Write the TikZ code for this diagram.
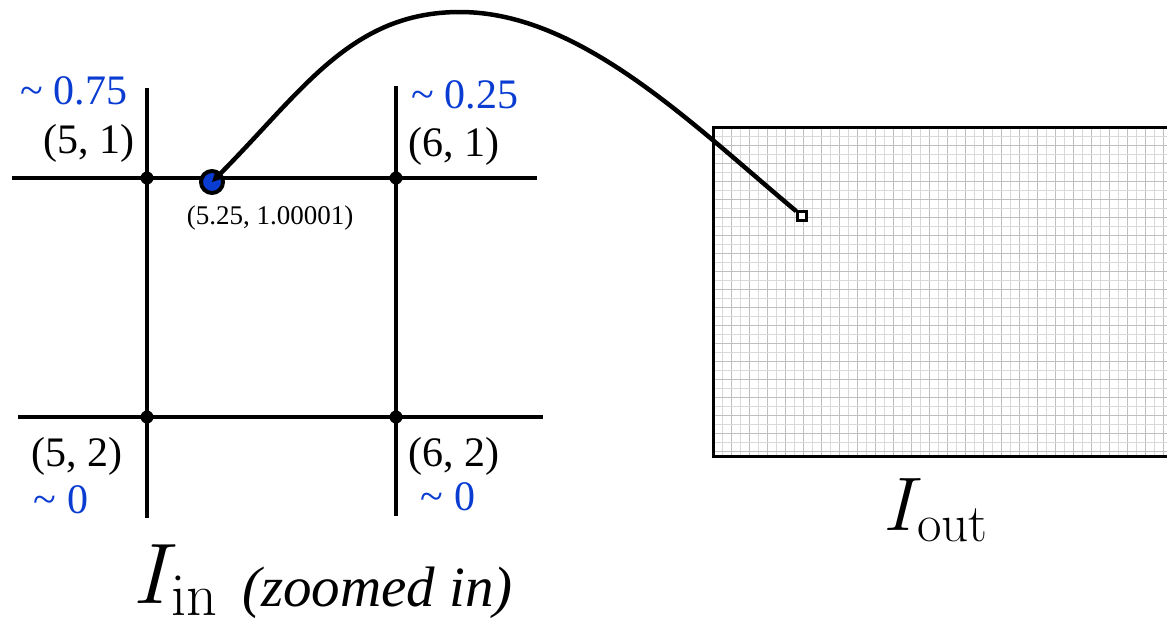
\RequirePackage{fix-cm}
\documentclass[tikz,border=0pt]{standalone}
\usepackage[no-math]{fontspec}
\setmainfont{Liberation Serif}
\usetikzlibrary{arrows.meta}
\definecolor{lblue}{RGB}{10,60,210}
\begin{document}
\begin{tikzpicture}[x=1pt,y=-1pt,
  gline/.style={line width=3.5pt},
  jdot/.style={circle,fill=black,inner sep=0,minimum size=13pt},
  lab/.style={inner sep=0,font=\fontsize{42}{48}\selectfont},
  blab/.style={lab,text=lblue},
  slab/.style={inner sep=0,font=\fontsize{27}{32}\selectfont},
  curve/.style={line width=4.5pt,-{Stealth[length=11pt,width=11pt]}},
  gridA/.style={gray!50,line width=1.6pt},
  gridB/.style={gray!30,line width=1.6pt}]
\useasboundingbox (0,0) rectangle (1167,630);
% input lattice
\draw[gline] (12,178) -- (537,178);
\draw[gline] (18,417) -- (543,417);
\draw[gline] (147,88) -- (147,518);
\draw[gline] (396,86) -- (396,516);
\node[jdot] (p51) at (147,178) {};
\node[jdot] (p61) at (396,178) {};
\node[jdot] (p52) at (147,417) {};
\node[jdot] (p62) at (396,417) {};
% labels
\node[blab] (w51) at (74,91) {\textasciitilde\ 0.75};
\node[lab]  (c51) at (89,143) {(5, 1)};
\node[blab] (w61) at (465,95) {\textasciitilde\ 0.25};
\node[lab]  (c61) at (454,146) {(6, 1)};
\node[lab]  (c52) at (77,456) {(5, 2)};
\node[blab] (w52) at (61,500) {\textasciitilde\ 0};
\node[lab]  (c62) at (454,456) {(6, 2)};
\node[blab] (w62) at (448,497) {\textasciitilde\ 0};
\node[slab] (cpt) at (270,218) {(5.25, 1.00001)};
% output image with grid
\begin{scope}
  \clip (713,127) rectangle (1180,456);
  \foreach \i in {0,2,...,52} \draw[gridA] ({713.5+9*\i},127) -- ++(0,330);
  \foreach \i in {1,3,...,53} \draw[gridB] ({713.5+9*\i},127) -- ++(0,330);
  \foreach \j in {0,2,...,38} \draw[gridA] (713,{127.5+9*\j}) -- ++(470,0);
  \foreach \j in {1,3,...,39} \draw[gridB] (713,{127.5+9*\j}) -- ++(470,0);
\end{scope}
\draw[line width=3pt] (713,127) rectangle (1180,456);
\node[draw,line width=2.5pt,fill=white,inner sep=0,minimum size=9pt] (sq) at (802,216) {};
% sample point
\node[circle,fill=lblue,draw=black,line width=4pt,inner sep=0,minimum size=22pt] (pt) at (212,182) {};
\draw[curve] (sq) .. controls (692,124) and (580,12) .. (460,12) .. controls (350,12) and (302,92) .. (pt.center);
% captions
\node[inner sep=0,anchor=base west,font=\fontsize{86}{90}\selectfont] (tin) at (134,603) {$I_{\mathrm{in}}$};
\node[inner sep=0,anchor=base west,font=\fontsize{57}{62}\selectfont] (tzoom) at (242,606) {\textit{(zoomed in)}};
\node[inner sep=0,anchor=base west,font=\fontsize{76}{80}\selectfont] (tout) at (884,530) {$I_{\mathrm{out}}$};
\end{tikzpicture}
\end{document}
